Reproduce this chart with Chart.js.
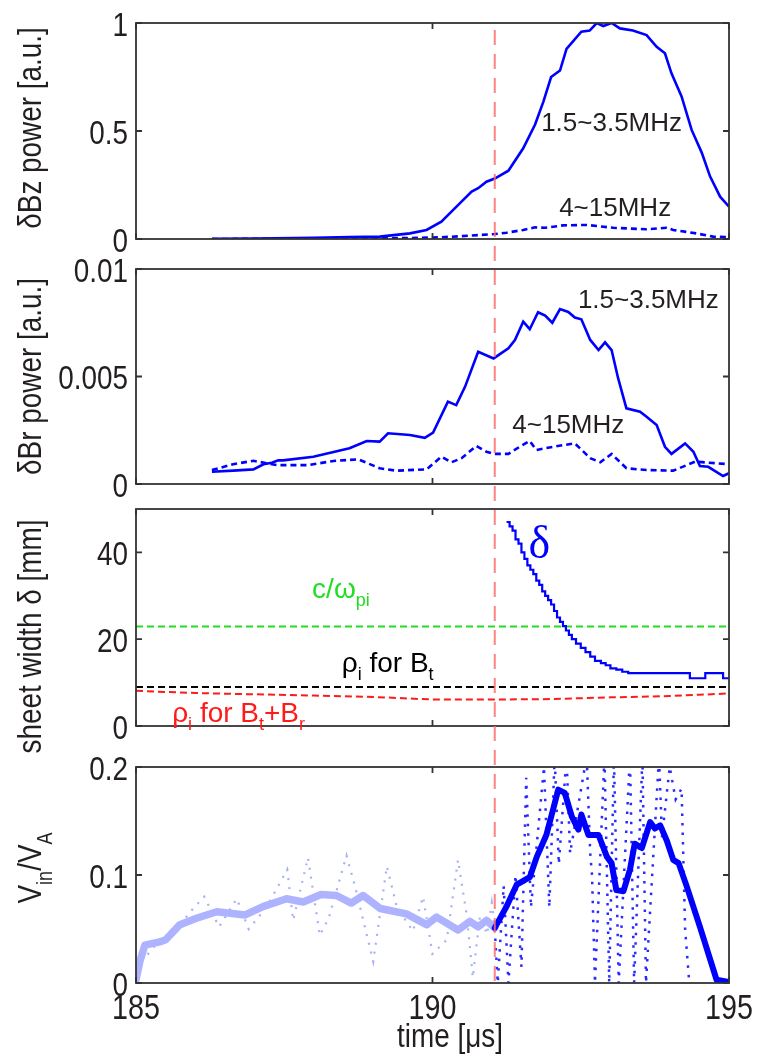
<!DOCTYPE html>
<html>
<head>
<meta charset="utf-8">
<script src="https://cdn.jsdelivr.net/npm/chart.js@4.4.1/dist/chart.umd.min.js"></script>
<style>
  body { margin: 0; background: #fff; }
  canvas { position: absolute; left: 0; top: 0; }
</style>
</head>
<body>
<canvas id="p1" width="758" height="1056"></canvas>
<canvas id="p2" width="758" height="1056"></canvas>
<canvas id="p3" width="758" height="1056"></canvas>
<canvas id="p4" width="758" height="1056"></canvas>
<script>
// ---- data (time in µs) ----
const xTicks = [185, 190, 195];
const xTickLabels = ["185", "190", "195"];
const markerTime = 191.05;

const bzTicks = [0, 0.5, 1];
const bzTickLabels = ["0", "0.5", "1"];
const bzLow = [[186.28,0.001],[187.0,0.002],[188.0,0.005],[188.6,0.009],[189.11,0.011],[189.62,0.026],[189.9,0.042],[190.15,0.08],[190.46,0.165],[190.66,0.22],[190.77,0.235],[190.91,0.265],[191.05,0.28],[191.28,0.316],[191.53,0.42],[191.73,0.53],[191.87,0.636],[192.0,0.75],[192.15,0.78],[192.26,0.88],[192.51,0.96],[192.65,0.965],[192.77,1.0],[192.88,0.986],[193.02,1.0],[193.16,0.975],[193.38,0.965],[193.61,0.944],[193.78,0.89],[193.92,0.86],[194.03,0.767],[194.2,0.66],[194.37,0.505],[194.54,0.40],[194.68,0.29],[194.85,0.196],[195.0,0.15]];
const bzHigh = [[186.28,0.0],[187.5,0.001],[188.5,0.002],[189.5,0.004],[190.15,0.008],[190.6,0.015],[191.05,0.023],[191.25,0.029],[191.53,0.042],[191.73,0.054],[191.9,0.052],[192.2,0.063],[192.6,0.065],[193.05,0.052],[193.6,0.045],[193.95,0.052],[194.06,0.042],[194.45,0.026],[194.73,0.011],[195.0,0.008]];

const brTicks = [0, 0.005, 0.01];
const brTickLabels = ["0", "0.005", "0.01"];
const brLow = [[186.28,0.00057],[186.64,0.00062],[186.98,0.00068],[187.15,0.00092],[187.29,0.00099],[187.4,0.0011],[187.48,0.0011],[187.99,0.00127],[188.6,0.00166],[188.89,0.002],[189.11,0.00197],[189.25,0.00236],[189.62,0.00228],[189.87,0.00215],[190.01,0.00239],[190.26,0.00383],[190.4,0.00367],[190.55,0.00453],[190.77,0.00615],[191.03,0.00584],[191.28,0.00631],[191.39,0.0067],[191.53,0.00755],[191.64,0.0072],[191.78,0.00799],[191.9,0.00783],[192.02,0.0075],[192.15,0.00814],[192.29,0.008],[192.4,0.00774],[192.51,0.00766],[192.66,0.0067],[192.8,0.00623],[192.91,0.00659],[193.02,0.00623],[193.13,0.00492],[193.27,0.00352],[193.5,0.00336],[193.61,0.00313],[193.78,0.00274],[193.92,0.00173],[194.03,0.0014],[194.26,0.00189],[194.4,0.0015],[194.51,0.00084],[194.65,0.0008],[194.9,0.00037],[195.0,0.0005]];
const brHigh = [[186.28,0.00065],[186.64,0.00092],[186.98,0.00108],[187.37,0.00088],[187.9,0.00088],[188.33,0.00107],[188.75,0.00115],[189.11,0.00073],[189.39,0.00062],[189.9,0.00068],[190.15,0.00127],[190.32,0.00101],[190.49,0.0012],[190.74,0.00177],[190.91,0.0015],[191.05,0.0014],[191.28,0.0014],[191.47,0.00173],[191.64,0.002],[191.75,0.00158],[192.03,0.00173],[192.4,0.00189],[192.66,0.0012],[192.83,0.00101],[193.02,0.0014],[193.27,0.00073],[193.61,0.00065],[194.06,0.00062],[194.43,0.00104],[195.0,0.00092]];

const widthTicks = [0, 20, 40];
const widthTickLabels = ["0", "20", "40"];
const sheetWidth = [[191.25,47],[191.3,46],[191.35,45],[191.4,43],[191.45,42],[191.5,40],[191.55,38.5],[191.6,37],[191.65,36],[191.7,35],[191.75,33.5],[191.8,32.5],[191.85,31],[191.9,30],[191.95,29],[192.0,28],[192.05,26.5],[192.1,25],[192.15,24],[192.2,23],[192.25,22],[192.3,21],[192.35,20],[192.42,19],[192.5,18],[192.58,17],[192.66,16],[192.74,15],[192.84,14.5],[192.92,14],[193.0,13.3],[193.1,13],[193.2,12.5],[193.3,12.2],[194.34,11.0],[194.6,12.2],[194.9,11.0],[195.0,11.0]];
const ionInertial = [[185,22.9],[195,22.9]];
const rhoBt = [[185,9.0],[195,9.0]];
const rhoBtBr = [[185,8.1],[186,7.6],[187,7.3],[188,7.0],[189,6.7],[190,6.1],[191,6.1],[192,6.2],[193,6.6],[194,6.9],[194.5,7.2],[195,7.5]];

const vinTicks = [0, 0.1, 0.2];
const vinTickLabels = ["0", "0.1", "0.2"];
const vinRawBefore = [[185.1,0.02],[185.4,0.04],[185.7,0.05],[185.9,0.065],[186.15,0.08],[186.4,0.052],[186.7,0.078],[186.9,0.05],[187.2,0.07],[187.55,0.105],[187.65,0.058],[187.9,0.116],[188.1,0.044],[188.25,0.06],[188.55,0.118],[188.7,0.088],[189.0,0.02],[189.23,0.108],[189.4,0.07],[189.67,0.048],[189.84,0.08],[190.0,0.027],[190.24,0.04],[190.43,0.114],[190.58,0.062],[190.68,0.005],[190.8,0.062],[190.92,0.045],[191.0,0.074],[191.05,0.05]];
const vinRawAfter = [[191.05,0.05],[191.1,0.0],[191.2,0.09],[191.28,0.0],[191.4,0.1],[191.5,0.015],[191.58,0.19],[191.66,0.07],[191.88,0.2],[191.97,0.07],[192.06,0.21],[192.13,0.11],[192.26,0.21],[192.32,0.12],[192.6,0.21],[192.66,0.12],[192.69,0.1],[192.74,0.0],[192.9,0.21],[192.98,0.0],[193.06,0.21],[193.14,0.0],[193.33,0.21],[193.4,0.0],[193.54,0.21],[193.6,0.0],[193.82,0.21],[193.87,0.135],[194.0,0.2],[194.1,0.17],[194.2,0.18],[194.26,0.05],[194.33,0.0],[194.4,-0.01]];
const vinSmoothBefore = [[185.0,0.003],[185.07,0.021],[185.15,0.035],[185.4,0.038],[185.5,0.04],[185.74,0.054],[186.02,0.06],[186.36,0.066],[186.84,0.063],[187.15,0.071],[187.54,0.078],[187.82,0.075],[188.12,0.082],[188.38,0.081],[188.63,0.074],[188.83,0.081],[189.12,0.069],[189.56,0.064],[189.9,0.054],[190.07,0.061],[190.43,0.049],[190.63,0.057],[190.77,0.052],[190.91,0.058],[191.05,0.051]];
const vinSmoothAfter = [[191.05,0.051],[191.25,0.071],[191.42,0.091],[191.64,0.098],[191.76,0.117],[191.92,0.137],[192.04,0.162],[192.12,0.179],[192.23,0.176],[192.35,0.154],[192.46,0.142],[192.51,0.156],[192.63,0.137],[192.8,0.137],[192.94,0.117],[193.02,0.111],[193.1,0.086],[193.22,0.085],[193.33,0.105],[193.41,0.129],[193.53,0.125],[193.67,0.149],[193.75,0.143],[193.84,0.146],[193.95,0.132],[194.06,0.114],[194.15,0.111],[194.29,0.089],[194.51,0.052],[194.79,0.003],[194.99,0.001]];

// ---- drawing ----
const H = 1056;
const SANS = '"Liberation Sans", Arial, sans-serif';
const SERIF = '"Liberation Serif", "Times New Roman", serif';
const INK = "#231f20";
const BLUE = "#0000ff";
const SQUEEZE = 0.82; // axis text in the figure is condensed

Chart.defaults.animation = false;
Chart.defaults.responsive = false;

const pts = (arr) => arr.map(p => ({ x: p[0], y: p[1] }));

function line(arr, color, width, dash, extra) {
  return Object.assign({
    data: pts(arr), borderColor: color, borderWidth: width, borderDash: dash || [],
    pointRadius: 0, fill: false, tension: 0
  }, extra || {});
}

// text with _{sub} parts
function parts(text) {
  return text.split(/_\{([^}]*)\}/).map((t, i) => ({ t, sub: i % 2 === 1 })).filter(p => p.t);
}
function richWidth(ctx, text, size, family) {
  let w = 0;
  parts(text).forEach(p => {
    ctx.font = (p.sub ? Math.round(size * 0.65) : size) + "px " + family;
    w += ctx.measureText(p.t).width;
  });
  return w;
}
function drawRich(ctx, text, x, y, size, family, subDrop) {
  parts(text).forEach(p => {
    ctx.font = (p.sub ? Math.round(size * 0.65) : size) + "px " + family;
    ctx.fillText(p.t, x, y + (p.sub ? subDrop : 0));
    x += ctx.measureText(p.t).width;
  });
}
// condensed axis text, align: 0 left, 0.5 center, 1 right
function axisText(ctx, text, x, y, align, rotate, size) {
  size = size || 34;
  ctx.save();
  ctx.translate(x, y);
  if (rotate) ctx.rotate(-Math.PI / 2);
  ctx.scale(SQUEEZE, 1);
  const w = richWidth(ctx, text, size, SANS);
  drawRich(ctx, text, -w * align, 0, size, SANS, 11);
  ctx.restore();
}

function framePlugin(cfg) {
  return {
    id: "frame_" + cfg.id,
    afterDatasetsDraw(chart) {
      const { ctx, chartArea: a, scales: { x, y } } = chart;
      ctx.save();
      // box and inward ticks
      ctx.strokeStyle = "#333";
      ctx.lineWidth = 1.8;
      ctx.strokeRect(a.left, a.top, a.right - a.left, a.bottom - a.top);
      ctx.beginPath();
      xTicks.forEach(v => {
        const px = x.getPixelForValue(v);
        ctx.moveTo(px, a.bottom); ctx.lineTo(px, a.bottom - 6);
        ctx.moveTo(px, a.top); ctx.lineTo(px, a.top + 6);
      });
      cfg.yTicks.forEach(v => {
        const py = y.getPixelForValue(v);
        ctx.moveTo(a.left, py); ctx.lineTo(a.left + 6, py);
        ctx.moveTo(a.right, py); ctx.lineTo(a.right - 6, py);
      });
      ctx.stroke();

      // tick labels
      ctx.fillStyle = INK;
      ctx.textBaseline = "alphabetic";
      cfg.yTicks.forEach((v, i) => {
        axisText(ctx, cfg.yTickLabels[i], a.left - 8, y.getPixelForValue(v) + 12.5, 1);
      });
      if (cfg.last) {
        xTicks.forEach((v, i) => {
          axisText(ctx, xTickLabels[i], x.getPixelForValue(v), a.bottom + 36, 0.5, false, 35);
        });
        axisText(ctx, "time [\u03bcs]", 450, a.bottom + 64, 0.5);
      }

      // annotations
      cfg.labels.forEach(l => {
        ctx.fillStyle = l.color;
        const fam = l.family || SANS;
        let px = x.getPixelForValue(l.t);
        const py = y.getPixelForValue(l.v);
        if (l.center) px -= richWidth(ctx, l.text, l.size, fam) / 2;
        drawRich(ctx, l.text, px, py, l.size, fam, l.size * 0.3);
      });

      // rotated y title
      ctx.fillStyle = INK;
      axisText(ctx, cfg.title, 41, (a.top + a.bottom) / 2 + cfg.titleShift, 0.5, true);
      ctx.restore();

      if (cfg.last) {
        // event marker through all panels
        ctx.save();
        const mx = x.getPixelForValue(markerTime);
        ctx.strokeStyle = "rgba(255,110,110,0.85)";
        ctx.lineWidth = 2;
        ctx.setLineDash([15, 9]);
        ctx.beginPath();
        ctx.moveTo(mx, 30);
        ctx.lineTo(mx, a.bottom);
        ctx.stroke();
        ctx.restore();
      }
    }
  };
}

function makePanel(cfg) {
  return new Chart(document.getElementById(cfg.id), {
    type: "line",
    data: { datasets: cfg.datasets },
    options: {
      layout: { padding: { left: 0, right: 29, top: cfg.top, bottom: H - cfg.bottom } },
      plugins: { legend: { display: false }, tooltip: { enabled: false } },
      scales: {
        x: { type: "linear", min: 185, max: 195, display: false },
        y: {
          type: "linear", min: cfg.yTicks[0], max: cfg.yMax,
          grid: { display: false, drawTicks: false }, border: { display: false },
          ticks: { display: false },
          afterFit: (s) => { s.width = 136; }
        }
      }
    },
    plugins: [framePlugin(cfg)]
  });
}

makePanel({
  id: "p1", top: 23, bottom: 239, yMax: 1, yTicks: bzTicks, yTickLabels: bzTickLabels,
  title: "\u03b4Bz power [a.u.]", titleShift: -3,
  datasets: [line(bzLow, BLUE, 2.6), line(bzHigh, BLUE, 2.6, [6, 4])],
  labels: [
    { t: 193.02, v: 0.5, text: "1.5~3.5MHz", color: INK, size: 26, center: true },
    { t: 193.08, v: 0.105, text: "4~15MHz", color: INK, size: 26, center: true }
  ]
});

makePanel({
  id: "p2", top: 269, bottom: 484, yMax: 0.01, yTicks: brTicks, yTickLabels: brTickLabels,
  title: "\u03b4Br power [a.u.]", titleShift: 0,
  datasets: [line(brLow, BLUE, 2.6), line(brHigh, BLUE, 2.6, [6, 4])],
  labels: [
    { t: 193.64, v: 0.00818, text: "1.5~3.5MHz", color: INK, size: 26, center: true },
    { t: 192.29, v: 0.00238, text: "4~15MHz", color: INK, size: 26, center: true }
  ]
});

makePanel({
  id: "p3", top: 509, bottom: 726, yMax: 50, yTicks: widthTicks, yTickLabels: widthTickLabels,
  title: "sheet width \u03b4 [mm]", titleShift: 19,
  datasets: [
    line(sheetWidth, BLUE, 2.2, [], { stepped: "before" }),
    line(ionInertial, "#22dd22", 2, [7, 4]),
    line(rhoBt, "#000000", 2, [7, 4]),
    line(rhoBtBr, "#ff1a1a", 2, [7, 4])
  ],
  labels: [
    { t: 187.97, v: 29.5, text: "c/\u03c9_{pi}", color: "#22dd22", size: 28 },
    { t: 188.47, v: 12.5, text: "\u03c1_{i} for B_{t}", color: "#000000", size: 28 },
    { t: 185.61, v: 0.9, text: "\u03c1_{i} for B_{t}+B_{r}", color: "#ff1a1a", size: 28 },
    { t: 191.8, v: 38.8, text: "\u03b4", color: BLUE, size: 46, center: true, family: SERIF }
  ]
});

makePanel({
  id: "p4", top: 767, bottom: 983, yMax: 0.2, yTicks: vinTicks, yTickLabels: vinTickLabels,
  title: "V_{in}/V_{A}", titleShift: -7, last: true,
  datasets: [
    line(vinSmoothAfter, BLUE, 6, [], { borderCapStyle: "round", borderJoinStyle: "round" }),
    line(vinSmoothBefore, "#aeb3ff", 7.5, [], { borderCapStyle: "round", borderJoinStyle: "round" }),
    line(vinRawAfter, "#2a2aff", 2.5, [2.5, 7], { clip: 0 }),
    line(vinRawBefore, "#a8aef8", 2.2, [2, 7], { clip: 0 })
  ],
  labels: []
});
</script>
</body>
</html>
